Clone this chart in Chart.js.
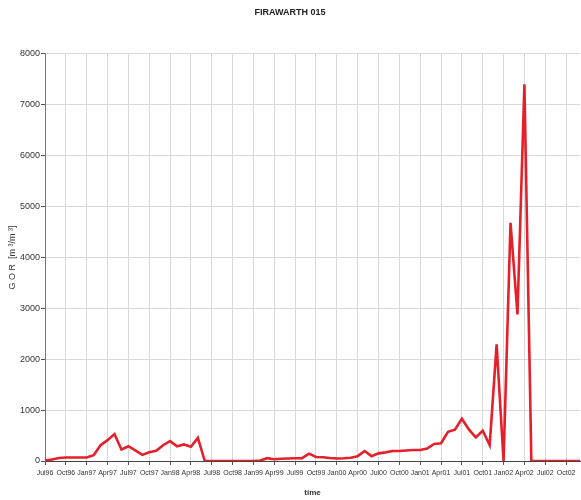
<!DOCTYPE html>
<html>
<head>
<meta charset="utf-8">
<script src="https://cdn.jsdelivr.net/npm/chart.js@4/dist/chart.umd.min.js"></script>
<style>
  html, body { margin: 0; padding: 0; background: #fff; }
</style>
</head>
<body>
<canvas id="gorChart" width="581" height="500"></canvas>
<script>
    // monthly categories, Jul96 .. Dec02
    var months = [
      "Jul96","Aug96","Sep96","Oct96","Nov96","Dec96",
      "Jan97","Feb97","Mar97","Apr97","May97","Jun97","Jul97","Aug97","Sep97","Oct97","Nov97","Dec97",
      "Jan98","Feb98","Mar98","Apr98","May98","Jun98","Jul98","Aug98","Sep98","Oct98","Nov98","Dec98",
      "Jan99","Feb99","Mar99","Apr99","May99","Jun99","Jul99","Aug99","Sep99","Oct99","Nov99","Dec99",
      "Jan00","Feb00","Mar00","Apr00","May00","Jun00","Jul00","Aug00","Sep00","Oct00","Nov00","Dec00",
      "Jan01","Feb01","Mar01","Apr01","May01","Jun01","Jul01","Aug01","Sep01","Oct01","Nov01","Dec01",
      "Jan02","Feb02","Mar02","Apr02","May02","Jun02","Jul02","Aug02","Sep02","Oct02","Nov02","Dec02"
    ];

    // only these get a tick label / grid line
    var tickLabels = [
      "Jul96","Oct96","Jan97","Apr97","Jul97","Oct97","Jan98","Apr98","Jul98","Oct98",
      "Jan99","Apr99","Jul99","Oct99","Jan00","Apr00","Jul00","Oct00","Jan01","Apr01",
      "Jul01","Oct01","Jan02","Apr02","Jul02","Oct02"
    ];

    // GOR [m3/m3]
    var gor = [
      10, 30, 60, 70, 70, 70,
      70, 115, 310, 410, 530, 225, 290, 210, 120, 170, 200, 310,
      390, 290, 325, 280, 455, 0, 0, 0, 0, 0, 0, 0,
      0, 10, 55, 35, 45, 50, 55, 55, 145, 80, 75, 60,
      50, 55, 65, 95, 195, 95, 150, 170, 195, 195, 205, 215,
      215, 245, 335, 350, 575, 615, 830, 620, 465, 595, 315, 2290,
      0, 4680, 2880, 7400, 0, 0, 0, 0, 0, 0, 0, 0
    ];

    var yTicks = [0, 1000, 2000, 3000, 4000, 5000, 6000, 7000, 8000];

    var fontFam = "'Liberation Sans', Arial, sans-serif";

    var ctx = document.getElementById('gorChart').getContext('2d');

    var myChart = new Chart(ctx, {
      type: 'line',
      data: {
        labels: months,
        datasets: [{
          data: gor,
          label: "GOR",
          fill: false,
          borderColor: '#e5202b',
          backgroundColor: '#e5202b',
          borderWidth: 2.6,
          pointRadius: 0,
          tension: 0
        }]
      },
      options: {
        responsive: false,
        animation: false,
        layout: { padding: { left: 0, right: 1, top: 0, bottom: 0 } },
        plugins: {
          legend: { display: false },
          tooltip: { enabled: false },
          title: {
            display: true,
            text: 'FIRAWARTH 015',
            color: '#222',
            font: { family: fontFam, size: 9, weight: 'bold' },
            padding: { top: 7, bottom: 36 }
          }
        },
        scales: {
          x: {
            type: 'category',
            offset: false,
            border: { color: '#444', width: 1 },
            grid: {
              color: '#d8d8d8',
              tickColor: '#555',
              tickLength: 4,
              drawOnChartArea: true
            },
            ticks: {
              autoSkip: false,
              maxRotation: 0,
              minRotation: 0,
              padding: 4,
              color: '#333',
              font: { family: fontFam, size: 7 },
              callback: function(val, idx) {
                var lab = months[idx];
                return tickLabels.indexOf(lab) >= 0 ? lab : null;
              }
            },
            title: {
              display: true,
              text: 'time',
              color: '#333',
              font: { family: fontFam, size: 8, weight: 'bold' },
              padding: { top: 0, bottom: 2 }
            },
            afterFit: function(scale) { scale.height = 39; }
          },
          y: {
            min: 0,
            max: 8000,
            border: { color: '#777', width: 1 },
            grid: {
              color: '#d8d8d8',
              tickColor: '#555',
              tickLength: 4
            },
            afterBuildTicks: function(scale) {
              scale.ticks = yTicks.map(function(v) { return { value: v }; });
            },
            ticks: {
              padding: 1,
              color: '#333',
              font: { family: fontFam, size: 9 },
              callback: function(v) { return String(v); }
            },
            title: {
              display: true,
              text: 'G O R  [m ³/m ³]',
              color: '#333',
              font: { family: fontFam, size: 9 },
              padding: { top: 7, bottom: 4 }
            },
            afterFit: function(scale) { scale.width = 45; }
          }
        }
      }
    });
</script>
</body>
</html>
